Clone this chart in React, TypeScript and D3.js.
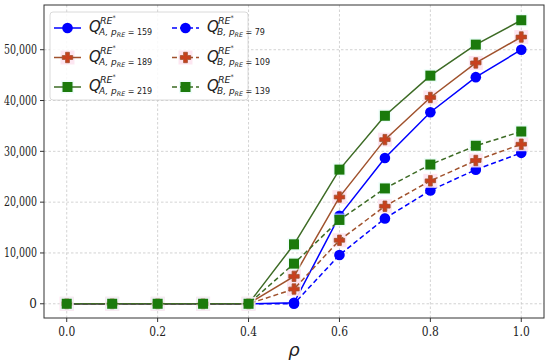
import React, { useEffect, useRef } from 'react';
import * as d3 from 'd3';

const rho = [0.0, 0.1, 0.2, 0.3, 0.4, 0.5, 0.6, 0.7, 0.8, 0.9, 1.0];

const qA159 = [0, 0, 0, 0, 0, 200, 17300, 28700, 37700, 44600, 50000];
const qA189 = [0, 0, 0, 0, 0, 5400, 21000, 32300, 40600, 47400, 52500];
const qA219 = [0, 0, 0, 0, 0, 11700, 26400, 37000, 44900, 51000, 55800];
const qB79 = [0, 0, 0, 0, 0, 0, 9600, 16800, 22300, 26400, 29700];
const qB109 = [0, 0, 0, 0, 0, 2900, 12500, 19200, 24200, 28200, 31400];
const qB139 = [0, 0, 0, 0, 0, 7900, 16500, 22700, 27400, 31100, 33900];

const xTicks = [0.0, 0.2, 0.4, 0.6, 0.8, 1.0];
const yTicks = [0, 10000, 20000, 30000, 40000, 50000];

const series = [
  { sub: 'A', p: '159', values: qA159, line: '#0000ff', fill: '#0000ff', marker: 'circle', dashed: false },
  { sub: 'A', p: '189', values: qA189, line: '#a0522d', fill: '#c8401e', marker: 'plus', dashed: false },
  { sub: 'A', p: '219', values: qA219, line: '#3d6b25', fill: '#1b7a0c', marker: 'square', dashed: false },
  { sub: 'B', p: '79', values: qB79, line: '#0000ff', fill: '#0000ff', marker: 'circle', dashed: true },
  { sub: 'B', p: '109', values: qB109, line: '#a0522d', fill: '#c8401e', marker: 'plus', dashed: true },
  { sub: 'B', p: '139', values: qB139, line: '#3d6b25', fill: '#1b7a0c', marker: 'square', dashed: true },
];

const W = 550;
const H = 363;
const L = 44, R = 544, T = 5, B = 318;
const sans = 'DejaVu Sans';
const serif = 'DejaVu Serif';

const drawHalo = (g: any, kind: string, cx: number, cy: number) => {
  if (kind === 'square') {
    g.append('rect').attr('x', cx - 6.5).attr('y', cy - 6.5).attr('width', 13).attr('height', 13)
      .attr('fill', '#e2fbf7').attr('opacity', 0.6);
  } else if (kind === 'plus') {
    g.append('rect').attr('x', cx - 7).attr('y', cy - 7).attr('width', 14).attr('height', 14)
      .attr('fill', '#fde3f0').attr('opacity', 0.9);
  }
};

const drawMarker = (g: any, kind: string, cx: number, cy: number, fill: string, edge: string) => {
  if (kind === 'circle') {
    g.append('circle').attr('cx', cx).attr('cy', cy).attr('r', 5.3).attr('fill', fill);
  } else if (kind === 'square') {
    g.append('rect').attr('x', cx - 5).attr('y', cy - 5).attr('width', 10).attr('height', 10)
      .attr('fill', fill);
  } else {
    const s = 5.2, a = 1.9;
    const pts = [
      [-a, -s], [a, -s], [a, -a], [s, -a], [s, a], [a, a], [a, s], [-a, s], [-a, a], [-s, a], [-s, -a], [-a, -a],
    ].map(([dx, dy]) => `${cx + dx},${cy + dy}`).join(' ');
    g.append('polygon').attr('points', pts).attr('fill', fill).attr('stroke', edge).attr('stroke-width', 0.8);
  }
};

const App: React.FC = () => {
  const svgRef = useRef<SVGSVGElement>(null);

  useEffect(() => {
    if (!svgRef.current) return;
    const svg = d3.select(svgRef.current);
    svg.selectAll('*').remove();

    const x = d3.scaleLinear().domain([-0.05, 1.05]).range([L, R]);
    const y = d3.scaleLinear().domain([-2800, 58800]).range([B, T]);

    svg.append('rect').attr('width', W).attr('height', H).attr('fill', '#fff');

    // grid
    const grid = svg.append('g').attr('stroke', '#c8c8c8').attr('stroke-width', 0.8).attr('stroke-dasharray', '2.5,2');
    xTicks.forEach(t => grid.append('line').attr('x1', x(t)).attr('x2', x(t)).attr('y1', T).attr('y2', B));
    yTicks.forEach(t => grid.append('line').attr('x1', L).attr('x2', R).attr('y1', y(t)).attr('y2', y(t)));

    // ticks
    const fmt = d3.format(',');
    const ticks = svg.append('g').attr('stroke', '#333');
    xTicks.forEach(t => ticks.append('line').attr('x1', x(t)).attr('x2', x(t)).attr('y1', B).attr('y2', B + 4));
    yTicks.forEach(t => ticks.append('line').attr('x1', L - 4).attr('x2', L).attr('y1', y(t)).attr('y2', y(t)));

    svg.append('g').selectAll('text').data(xTicks).enter().append('text')
      .attr('x', d => x(d)).attr('y', B + 18).attr('text-anchor', 'middle')
      .attr('font-family', serif).attr('font-size', 12).attr('fill', '#222')
      .attr('textLength', 17).attr('lengthAdjust', 'spacingAndGlyphs')
      .text(d => d3.format('.1f')(d));
    svg.append('g').selectAll('text').data(yTicks).enter().append('text')
      .attr('x', L - 7).attr('y', d => y(d)).attr('dy', '0.35em').attr('text-anchor', 'end')
      .attr('font-family', serif).attr('font-size', 12).attr('fill', '#222')
      .attr('textLength', d => (d === 0 ? null : 33)).attr('lengthAdjust', 'spacingAndGlyphs')
      .text(d => fmt(d));

    // series
    const line = d3.line<number>().x((_, i) => x(rho[i])).y(d => y(d));
    series.forEach(s => {
      const hg = svg.append('g');
      s.values.forEach((v, i) => drawHalo(hg, s.marker, x(rho[i]), y(v)));
      svg.append('path').datum(s.values).attr('d', line).attr('fill', 'none')
        .attr('stroke', s.line).attr('stroke-width', 1.5)
        .attr('stroke-dasharray', s.dashed ? '5,3' : null);
      const mg = svg.append('g');
      s.values.forEach((v, i) => drawMarker(mg, s.marker, x(rho[i]), y(v), s.fill, s.line));
    });

    // frame
    svg.append('rect').attr('x', L).attr('y', T).attr('width', R - L).attr('height', B - T)
      .attr('fill', 'none').attr('stroke', '#333').attr('stroke-width', 1);

    // x label
    svg.append('text').attr('x', x(0.5)).attr('y', 356).attr('text-anchor', 'middle')
      .attr('font-family', sans).attr('font-style', 'italic').attr('font-size', 18)
      .attr('fill', '#222').text('ρ');

    // legend
    const lg = svg.append('g');
    lg.append('rect').attr('x', 50).attr('y', 12).attr('width', 198).attr('height', 88).attr('rx', 3)
      .attr('fill', 'rgba(255,255,255,0.85)').attr('stroke', '#d0d0d0').attr('stroke-width', 0.8);
    series.forEach((s, i) => {
      const col = Math.floor(i / 3);
      const row = i % 3;
      const lx = col === 0 ? 54 : 172;
      const ly = 28 + row * 29.5;
      drawHalo(lg, s.marker, lx + 13.5, ly);
      lg.append('line').attr('x1', lx).attr('x2', lx + 27).attr('y1', ly).attr('y2', ly)
        .attr('stroke', s.line).attr('stroke-width', 1.5).attr('stroke-dasharray', s.dashed ? '5,3' : null);
      drawMarker(lg, s.marker, lx + 13.5, ly, s.fill, s.line);
      const tx = lx + 35;
      lg.append('text').attr('x', tx).attr('y', ly + 4).attr('font-family', sans).attr('font-style', 'italic')
        .attr('font-size', 15).attr('fill', '#222').text('Q');
      const sup = lg.append('text').attr('x', tx + 11).attr('y', ly - 4).attr('font-family', sans)
        .attr('font-size', 9.5).attr('fill', '#222');
      sup.append('tspan').attr('font-style', 'italic').text('RE');
      sup.append('tspan').attr('font-size', 6.5).attr('dy', -4).text('*');
      const sb = lg.append('text').attr('x', tx + 10).attr('y', ly + 7).attr('font-family', sans)
        .attr('font-size', 9).attr('fill', '#222');
      sb.append('tspan').attr('font-style', 'italic').text(`${s.sub}, p`);
      sb.append('tspan').attr('font-style', 'italic').attr('font-size', 6.3).attr('dy', 2).text('RE');
      sb.append('tspan').attr('dy', -2).attr('font-size', 8).text(` = ${s.p}`);
    });
  }, []);

  return (
    <svg ref={svgRef} width={W} height={H} style={{ position: 'absolute', left: 0, top: 0 }} />
  );
};

export default App;
